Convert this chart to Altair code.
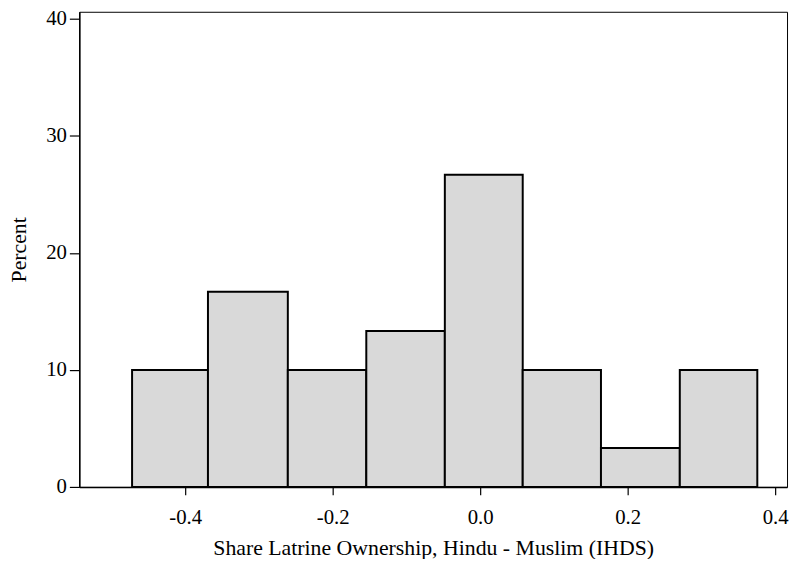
import altair as alt
import pandas as pd

# Bin edges (x units) and the percent in each bin
bin_edges = [-0.4720, -0.3691, -0.2608, -0.1544, -0.0479, 0.0577, 0.1638, 0.2707, 0.3758]
percents = [10.0, 16.67, 10.0, 13.33, 26.67, 10.0, 3.33, 10.0]
x_ticks = [-0.4, -0.2, 0.0, 0.2, 0.4]
y_ticks = [0, 10, 20, 30, 40]

df = pd.DataFrame({
    "start": bin_edges[:-1],
    "end": bin_edges[1:],
    "pct": percents,
})

FONT = "Liberation Serif"

chart = alt.Chart(df).mark_rect(
    fill="#d9d9d9", stroke="black", strokeWidth=2
).encode(
    x=alt.X("start:Q",
            scale=alt.Scale(domain=[-0.5436, 0.4161], nice=False, zero=False),
            axis=alt.Axis(values=x_ticks, title="Share Latrine Ownership, Hindu - Muslim (IHDS)",
                          labelExpr="(datum.value < -0.00001 ? '-' : '') + format(abs(datum.value), '.1f')",
                          tickSize=8, labelPadding=12, titleY=68, titleBaseline="alphabetic",
                          labelFlush=False)),
    x2="end:Q",
    y=alt.Y("pct:Q",
            scale=alt.Scale(domain=[0, 40.6], nice=False),
            axis=alt.Axis(values=y_ticks, title="Percent", format="d",
                          tickSize=10, labelPadding=3, titleX=-54.5, titleBaseline="alphabetic",
                          labelAngle=0)),
    y2=alt.datum(0),
).properties(
    width=715, height=480,
    autosize=alt.AutoSizeParams(type="none"),
    padding={"left": 72, "top": 1, "right": 3, "bottom": 70},
).configure_view(
    stroke="black", strokeWidth=1
).configure_axis(
    grid=False,
    domainColor="black", domainWidth=1.5,
    tickColor="black", tickWidth=1.2,
    labelColor="black", titleColor="black",
    labelFont=FONT, titleFont=FONT,
    labelFontSize=21, titleFontSize=22,
    titleFontWeight="normal",
)

chart.save("out.html", embed_options={"renderer": "svg", "actions": False})
